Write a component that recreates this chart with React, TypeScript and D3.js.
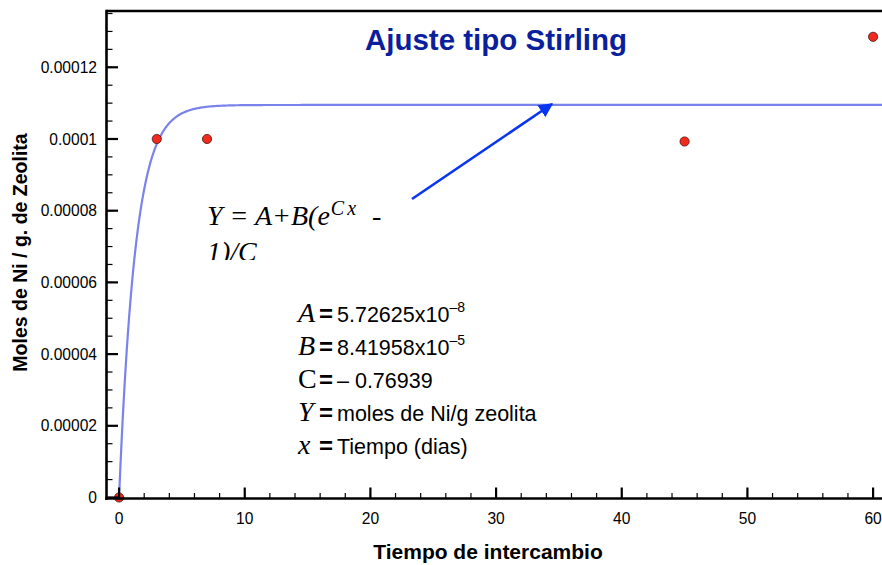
import React from "react";
import * as d3 from "d3";

// Data
const daysX = [0, 3, 7, 45, 60];
const molesY = [0, 0.0001, 0.0001, 0.0000993, 0.0001285];

// Fit parameters (shown in the chart)
const paramA = 5.72625e-8;
const paramB = 8.41958e-5;
const paramC = -0.76939;

const yTickValues = [0, 0.00002, 0.00004, 0.00006, 0.00008, 0.0001, 0.00012];
const yTickLabels = ["0", "0.00002", "0.00004", "0.00006", "0.00008", "0.0001", "0.00012"];
const xTickValues = [0, 10, 20, 30, 40, 50, 60];
const xTickLabels = ["0", "10", "20", "30", "40", "50", "60"];

const paramSymbols = ["A", "B", "C", "Y", "x"];
const paramTexts = ["5.72625x10", "8.41958x10", "– 0.76939", "moles de Ni/g zeolita", "Tiempo (dias)"];
const paramExps = ["–8", "–5", "", "", ""];

const W = 882;
const H = 565;
const SANS = "'Liberation Sans', Arial, Helvetica, sans-serif";
const SERIF = "'Liberation Serif', 'Times New Roman', Times, serif";

export default function App() {
  const left = 106.5;
  const top = 11;
  const bottom = 497.5;
  const x = d3.scaleLinear().domain([-1, 61]).range([left, left + 62 * 12.567]);
  const y = d3.scaleLinear().domain([0, 0.0001357]).range([bottom, top]);

  const fit = (t: number) => paramA + (paramB * (Math.exp(paramC * t) - 1)) / paramC;
  const curveXs = d3.range(0, 61.0001, 0.1);
  const line = d3
    .line<number>()
    .x((t) => x(t))
    .y((t) => y(fit(t)))
    .curve(d3.curveLinear);

  const yMinor = d3.range(0, 0.0001351, 0.000005);
  const xMinor = d3.range(0, 61, 2);

  const right = x(61);
  const paramBaselines = [322, 355, 388, 421, 454];

  return (
    <svg
      width={W}
      height={H}
      style={{ position: "absolute", left: 0, top: 0, background: "#fff" }}
    >
      <defs>
        <clipPath id="plotClip">
          <rect x={left} y={top} width={right - left} height={bottom - top} />
        </clipPath>
        <clipPath id="eqClip">
          <rect x={190} y={180} width={220} height={80} />
        </clipPath>
        <marker
          id="arrowHead"
          viewBox="0 0 10 10"
          refX={9}
          refY={5}
          markerWidth={5.5}
          markerHeight={5.5}
          markerUnits="strokeWidth"
          orient="auto"
        >
          <path d="M0,0 L10,5 L0,10 Z" fill="#0a35f0" />
        </marker>
      </defs>

      {/* Fitted curve */}
      <path
        d={line(curveXs) || ""}
        fill="none"
        stroke="#7a82ec"
        strokeWidth={2.2}
        clipPath="url(#plotClip)"
      />

      {/* Data points */}
      {daysX.map((d, i) => (
        <circle
          key={i}
          cx={x(d)}
          cy={y(molesY[i])}
          r={4.6}
          fill="#f02a1c"
          stroke="#4a1410"
          strokeWidth={0.8}
        />
      ))}

      {/* Axes frame */}
      <line x1={left} y1={top} x2={right} y2={top} stroke="#000" strokeWidth={2.6} />
      <line x1={left} y1={top - 1.3} x2={left} y2={bottom + 2.5} stroke="#000" strokeWidth={2.6} />
      <line x1={left - 1.3} y1={bottom + 1} x2={right} y2={bottom + 1} stroke="#000" strokeWidth={2.6} />

      {/* Y ticks */}
      {yMinor.map((v, i) => (
        <line key={"ym" + i} x1={left} x2={left + 6} y1={y(v)} y2={y(v)} stroke="#000" strokeWidth={1.2} />
      ))}
      {yTickValues.map((v, i) => (
        <g key={"yt" + i}>
          <line x1={left} x2={left + 11.5} y1={y(v)} y2={y(v)} stroke="#000" strokeWidth={2.2} />
          <text
            x={97}
            y={y(v)}
            dy="0.36em"
            textAnchor="end"
            fontFamily={SANS}
            fontSize={15.6}
            fill="#000"
          >
            {yTickLabels[i]}
          </text>
        </g>
      ))}

      {/* X ticks */}
      {xMinor.map((v, i) => (
        <line key={"xm" + i} x1={x(v)} x2={x(v)} y1={bottom + 1} y2={bottom - 4.5} stroke="#000" strokeWidth={1.2} />
      ))}
      {xTickValues.map((v, i) => (
        <g key={"xt" + i}>
          <line x1={x(v)} x2={x(v)} y1={bottom + 1} y2={bottom - 10} stroke="#000" strokeWidth={2.2} />
          <text
            x={x(v)}
            y={524}
            textAnchor="middle"
            fontFamily={SANS}
            fontSize={15.6}
            fill="#000"
          >
            {xTickLabels[i]}
          </text>
        </g>
      ))}

      {/* Axis titles */}
      <text
        x={488}
        y={559}
        textAnchor="middle"
        fontFamily={SANS}
        fontWeight="bold"
        fontSize={21}
        fill="#000"
      >
        Tiempo de intercambio
      </text>
      <text
        transform="translate(27,252.5) rotate(-90)"
        textAnchor="middle"
        fontFamily={SANS}
        fontWeight="bold"
        fontSize={19.5}
        fill="#000"
      >
        Moles de Ni / g. de Zeolita
      </text>

      {/* Title */}
      <text
        x={496}
        y={50}
        textAnchor="middle"
        fontFamily={SANS}
        fontWeight="bold"
        fontSize={29.5}
        fill="#0b1f9c"
      >
        Ajuste tipo Stirling
      </text>

      {/* Arrow */}
      <line
        x1={412}
        y1={199}
        x2={552}
        y2={104}
        stroke="#0a35f0"
        strokeWidth={2.6}
        markerEnd="url(#arrowHead)"
      />

      {/* Equation */}
      <g clipPath="url(#eqClip)" fontFamily={SERIF} fontStyle="italic" fontSize={28} fill="#000">
        <text x={207} y={225}>
          <tspan>Y = A+B(e</tspan>
          <tspan fontSize={20} dy={-10} dx={1}>C</tspan>
          <tspan fontSize={20} dx={3}>x</tspan>
          <tspan x={372} dy={10} fontStyle="normal">-</tspan>
        </text>
        <text x={207} y={261}>1)/C</text>
      </g>

      {/* Parameters */}
      <g fill="#000">
        {paramSymbols.map((s, i) => (
          <text key={"p" + i} x={298} y={paramBaselines[i]}>
            <tspan fontFamily={SERIF} fontStyle={s === "C" ? "normal" : "italic"} fontSize={28}>
              {s}
            </tspan>
            <tspan x={319} fontFamily={SANS} fontSize={24} fontWeight="bold">=</tspan>
            <tspan x={337} fontFamily={SANS} fontSize={21.5}>{paramTexts[i]}</tspan>
            {paramExps[i] ? (
              <tspan fontFamily={SANS} fontSize={14} dy={-10}>{paramExps[i]}</tspan>
            ) : null}
          </text>
        ))}
      </g>
    </svg>
  );
}
